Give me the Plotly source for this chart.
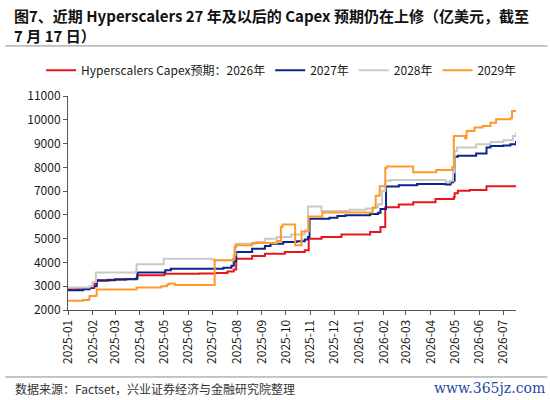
import plotly.graph_objects as go

FONT = "Noto Sans CJK SC"

# 2026 capex expectation (red)
dates_2026 = ["2025-01-01", "2025-01-15", "2025-01-28", "2025-02-03", "2025-02-06", "2025-02-20",
              "2025-03-15", "2025-03-28", "2025-03-29", "2025-05-02", "2025-06-15", "2025-07-05",
              "2025-07-20", "2025-07-28", "2025-07-31", "2025-08-20", "2025-09-05", "2025-09-30",
              "2025-10-25", "2025-10-30", "2025-11-15", "2025-12-10", "2026-01-15", "2026-01-28",
              "2026-02-03", "2026-02-20", "2026-03-10", "2026-04-07", "2026-04-30", "2026-05-01",
              "2026-05-05", "2026-05-20", "2026-06-10", "2026-07-17"]
capex_2026 = [2870, 2900, 2930, 3100, 3230, 3270,
              3300, 3330, 3460, 3520, 3540, 3560,
              3620, 3700, 4160, 4270, 4370, 4440,
              4510, 5000, 5070, 5180, 5280, 5490,
              6320, 6440, 6530, 6670, 6740, 6910,
              7020, 7050, 7200, 7250]

# 2027 capex expectation (blue)
dates_2027 = ["2025-01-01", "2025-01-20", "2025-01-28", "2025-02-01", "2025-02-06", "2025-03-01",
              "2025-03-28", "2025-03-29", "2025-05-03", "2025-05-10", "2025-07-01", "2025-07-15",
              "2025-07-25", "2025-07-28", "2025-07-31", "2025-08-20", "2025-09-05", "2025-09-12",
              "2025-09-28", "2025-10-15", "2025-10-25", "2025-10-29", "2025-10-31", "2025-11-25",
              "2025-12-05", "2025-12-15", "2026-01-15", "2026-01-25", "2026-01-28", "2026-02-04",
              "2026-02-20", "2026-03-15", "2026-04-20", "2026-04-26", "2026-04-29", "2026-05-01",
              "2026-05-05", "2026-05-28", "2026-06-10", "2026-06-15", "2026-07-01", "2026-07-10",
              "2026-07-17"]
capex_2027 = [2830, 2870, 2930, 3000, 3250, 3290,
              3340, 3580, 3670, 3740, 3730, 3780,
              3860, 4050, 4440, 4580, 4690, 4790,
              4860, 4890, 4960, 5070, 5840, 5880,
              5950, 5980, 6040, 6090, 6250, 7190,
              7250, 7300, 7280, 7370, 7440, 8440,
              8490, 8580, 8830, 8900, 8920, 8970,
              9110]

# 2028 capex expectation (grey)
dates_2028 = ["2025-01-01", "2025-01-28", "2025-02-01", "2025-02-05", "2025-03-27", "2025-03-28",
              "2025-05-01", "2025-06-30", "2025-07-03", "2025-07-20", "2025-07-28", "2025-07-30",
              "2025-08-25", "2025-09-05", "2025-09-20", "2025-10-08", "2025-10-25", "2025-10-29",
              "2025-11-15", "2025-12-20", "2026-01-10", "2026-01-20", "2026-01-25", "2026-01-30",
              "2026-02-03", "2026-02-10", "2026-04-20", "2026-04-25", "2026-04-29", "2026-05-01",
              "2026-05-04", "2026-05-28", "2026-06-15", "2026-07-01", "2026-07-13", "2026-07-17"]
capex_2028 = [2950, 3000, 3180, 3580, 3630, 3920,
              4160, 4130, 4090, 4100, 4300, 4790,
              4860, 5000, 5070, 5180, 5350, 6350,
              6160, 6220, 6270, 6320, 6450, 7020,
              7440, 7470, 7370, 7440, 7790, 8690,
              8830, 8970, 9070, 9140, 9320, 9450]

# 2029 capex expectation (orange)
dates_2029 = ["2025-01-01", "2025-01-20", "2025-01-27", "2025-01-28", "2025-02-04", "2025-02-06",
              "2025-03-28", "2025-04-28", "2025-05-05", "2025-05-08", "2025-05-15", "2025-07-04",
              "2025-07-25", "2025-07-27", "2025-07-29", "2025-07-31", "2025-08-20", "2025-09-20",
              "2025-09-25", "2025-09-27", "2025-10-13", "2025-10-21", "2025-10-30", "2025-11-16",
              "2026-01-18", "2026-01-22", "2026-01-27", "2026-02-03", "2026-02-05", "2026-03-10",
              "2026-04-08", "2026-04-28", "2026-04-30", "2026-05-14", "2026-05-16", "2026-05-26",
              "2026-06-05", "2026-06-15", "2026-06-22", "2026-07-10", "2026-07-12", "2026-07-17"]
capex_2029 = [2390, 2420, 2460, 2590, 2600, 2860,
              2950, 3000, 3070, 3110, 3050, 4090,
              4080, 4150, 4650, 4720, 4820, 4900,
              5490, 5600, 4720, 5300, 5930, 6100,
              6300, 6800, 7200, 7970, 8030, 7790,
              7890, 8000, 9320, 9220, 9530, 9670,
              9740, 9880, 10020, 10060, 10370, 10420]

series = [
    ("Hyperscalers Capex预期：2026年", dates_2026, capex_2026, "#E8161C"),
    ("2027年", dates_2027, capex_2027, "#0A268C"),
    ("2028年", dates_2028, capex_2028, "#C9C9C9"),
    ("2029年", dates_2029, capex_2029, "#FF9A2A"),
]

fig = go.Figure()
for name, d, v, c in series:
    fig.add_trace(go.Scatter(x=d, y=v, name=name, mode="lines",
                             line=dict(color=c, width=2, shape="hv")))

fig.update_layout(
    width=550, height=400,
    margin=dict(l=68, r=34, t=96, b=90),
    paper_bgcolor="white", plot_bgcolor="white",
    font=dict(family=FONT, size=12, color="#1a1a1a"),
    legend=dict(orientation="h", x=-0.06, xanchor="left", y=1.12, yanchor="middle",
                font=dict(size=12), itemwidth=30, tracegroupgap=0, bgcolor="rgba(0,0,0,0)"),
    showlegend=True,
)

fig.update_xaxes(
    type="date", range=["2025-01-01", "2026-07-17"],
    tickformat="%Y-%m", dtick="M1", tick0="2025-01-01", tickangle=-90,
    showgrid=False, showline=True, linecolor="#555555", linewidth=1,
    ticks="outside", ticklen=4, tickcolor="#555555",
    tickfont=dict(size=12, color="#1a1a1a"),
)
fig.update_yaxes(
    range=[2000, 11000], dtick=1000, tickformat="d",
    showgrid=False, showline=True, linecolor="#555555", linewidth=1,
    ticks="outside", ticklen=4, tickcolor="#555555", zeroline=False,
    tickfont=dict(size=12, color="#1a1a1a"),
)

# title block
fig.add_annotation(text="<b>图7、近期 Hyperscalers 27 年及以后的 Capex 预期仍在上修（亿美元，截至<br>7 月 17 日）</b>",
                   xref="paper", yref="paper", x=-0.125, y=1.435, xanchor="left", yanchor="top",
                   align="left", showarrow=False,
                   font=dict(family=FONT, size=15, color="#111111"))

# separator lines above and below the chart
fig.add_shape(type="line", xref="paper", yref="paper", x0=-0.14, x1=1.07, y0=1.234, y1=1.234,
              line=dict(color="#8c8c8c", width=1))
fig.add_shape(type="line", xref="paper", yref="paper", x0=-0.14, x1=1.07, y0=-0.313, y1=-0.313,
              line=dict(color="#8c8c8c", width=1))

fig.add_annotation(text="数据来源：Factset，兴业证券经济与金融研究院整理",
                   xref="paper", yref="paper", x=-0.122, y=-0.365, xanchor="left", yanchor="middle",
                   showarrow=False, font=dict(family=FONT, size=12, color="#333333"))
fig.add_annotation(text="www.365jz.com",
                   xref="paper", yref="paper", x=1.07, y=-0.365, xanchor="right", yanchor="middle",
                   showarrow=False, font=dict(family="DejaVu Serif", size=14, color="#1F4E9A"))

fig.write_html("out.html", config={"displayModeBar": False},
               post_script="document.body.style.margin='0';")
